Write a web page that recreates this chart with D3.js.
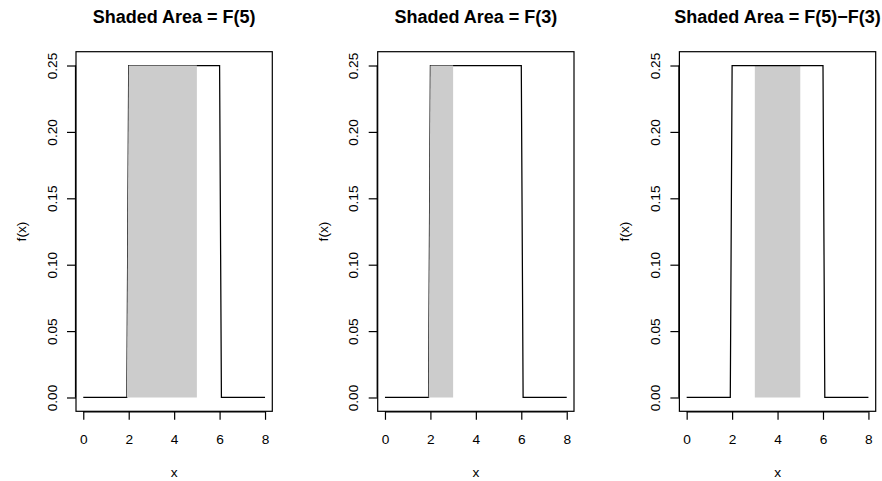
<!DOCTYPE html>
<html>
<head>
<meta charset="utf-8">
<script src="https://cdn.jsdelivr.net/npm/d3@7"></script>
<style>
  html, body { margin: 0; padding: 0; background: #fff; }
  svg { display: block; }
  text { font-family: "Liberation Sans", Arial, Helvetica, sans-serif; fill: #000; }
</style>
</head>
<body>
<script>
// ---- data ----
const titles = ["Shaded Area = F(5)", "Shaded Area = F(3)", "Shaded Area = F(5)\u2212F(3)"];
const curveX = [0, 1.92, 2, 6, 6.08, 8];
const curveY = [0, 0, 0.25, 0.25, 0, 0];
const shadeX1 = [1.92, 2, 5, 5];
const shadeY1 = [0, 0.25, 0.25, 0];
const shadeX2 = [1.92, 2, 3, 3];
const shadeY2 = [0, 0.25, 0.25, 0];
const shadeX3 = [3, 3, 5, 5];
const shadeY3 = [0, 0.25, 0.25, 0];
const xTicks = [0, 2, 4, 6, 8];
const yTicks = [0.00, 0.05, 0.10, 0.15, 0.20, 0.25];
const xLabel = "x";
const yLabel = "f(x)";

const shades = [
  {x: shadeX1, y: shadeY1, curveOnTop: false},
  {x: shadeX2, y: shadeY2, curveOnTop: false},
  {x: shadeX3, y: shadeY3, curveOnTop: true}
];

const W = 882, H = 481;
const svg = d3.select("body").append("svg").attr("width", W).attr("height", H);

const boxTop = 51.7, boxBottom = 411.3, boxW = 196.3;
const firstLeft = 76, step = 301.7;

const curvePts = curveX.map((v, i) => [v, curveY[i]]);

shades.forEach((sh, p) => {
  const left = firstLeft + step * p;
  const x = d3.scaleLinear().domain([-0.32, 8.32]).range([left, left + boxW]);
  const y = d3.scaleLinear().domain([-0.0104, 0.2604]).range([boxBottom, boxTop]);
  const g = svg.append("g");

  const line = d3.line().x(d => x(d[0])).y(d => y(d[1]));
  const shadePts = sh.x.map((v, i) => [v, sh.y[i]]);

  const drawCurve = () => g.append("path").attr("d", line(curvePts))
    .attr("fill", "none").attr("stroke", "#000").attr("stroke-width", 1.25);
  const drawShade = () => g.append("path").attr("d", line(shadePts) + "Z")
    .attr("fill", "#cccccc").attr("stroke", "none");

  if (sh.curveOnTop) { drawShade(); drawCurve(); } else { drawCurve(); drawShade(); }

  // box
  g.append("rect").attr("x", left).attr("y", boxTop).attr("width", boxW)
    .attr("height", boxBottom - boxTop).attr("fill", "none")
    .attr("stroke", "#000").attr("stroke-width", 1.2);

  // x axis
  const xa = d3.axisBottom(x).tickValues(xTicks).tickSize(8.5).tickPadding(4).tickFormat(d3.format("d"));
  const gx = g.append("g").attr("transform", `translate(0,${boxBottom})`).call(xa);
  gx.select(".domain").attr("d", `M${x(0)},0.5H${x(8)}`).attr("stroke-width", 1.2);
  gx.selectAll(".tick line").attr("stroke-width", 1.2);
  gx.selectAll("text").attr("font-size", "13.7px").attr("font-family", null)
    .attr("y", null).attr("dy", null).attr("transform", null)
    .each(function() { d3.select(this).attr("y", 32.5); });

  // y axis
  const ya = d3.axisLeft(y).tickValues(yTicks).tickSize(9).tickFormat(d3.format(".2f"));
  const gy = g.append("g").attr("transform", `translate(${left},0)`).call(ya);
  gy.select(".domain").attr("d", `M-0.5,${y(0)}V${y(0.25)}`).attr("stroke-width", 1.2);
  gy.selectAll(".tick line").attr("stroke-width", 1.2);
  gy.selectAll("text").attr("font-size", "13.7px").attr("font-family", null)
    .attr("x", null).attr("dy", null)
    .attr("text-anchor", "middle")
    .attr("transform", "translate(-19.3,0) rotate(-90)");

  // axis labels
  g.append("text").attr("x", left + boxW / 2).attr("y", 477)
    .attr("text-anchor", "middle").attr("font-size", "13.7px").text(xLabel);
  g.append("text").attr("transform", `translate(${left - 50},${(boxTop + boxBottom) / 2}) rotate(-90)`)
    .attr("text-anchor", "middle").attr("font-size", "13.7px").text(yLabel);

  // title
  g.append("text").attr("x", left + boxW / 2).attr("y", 23)
    .attr("text-anchor", "middle").attr("font-size", "18px").attr("font-weight", "bold")
    .text(titles[p]);
});
</script>
</body>
</html>
